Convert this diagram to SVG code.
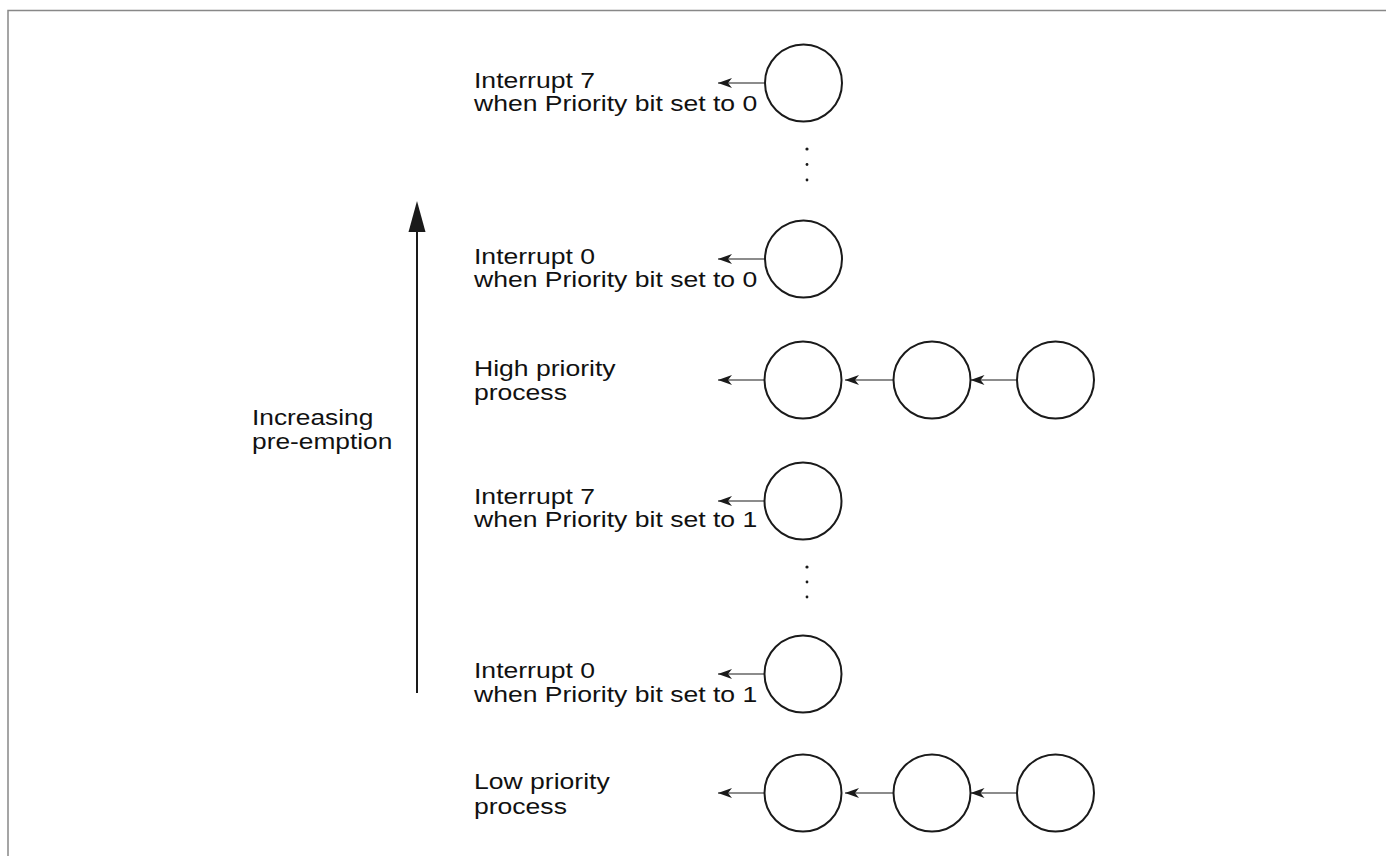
<svg xmlns="http://www.w3.org/2000/svg" width="1386" height="856" viewBox="0 0 1386 856">
<style>
.t{font-family:"Liberation Sans",Arial,sans-serif;font-size:22.5px;fill:#111}
.c{fill:#fff;stroke:#1a1a1a;stroke-width:2}
.a{stroke:#1a1a1a;stroke-width:1.2;fill:none;marker-end:url(#ah)}
.d{fill:#1a1a1a}
</style>
<defs>
<marker id="ah" markerUnits="userSpaceOnUse" viewBox="-15 -6 17 12" refX="0" refY="0" markerWidth="17" markerHeight="12" orient="auto">
<path d="M0,0 L-14,-5 L-10,0 L-14,5 Z" fill="#1a1a1a"/>
</marker>
</defs>
<rect width="1386" height="856" fill="#fff"/>
<path d="M8,856 L8,10.5 L1386,10.5" fill="none" stroke="#888" stroke-width="1.5"/>

<g id="axis">
<line x1="417" y1="693" x2="417" y2="228" stroke="#1a1a1a" stroke-width="2"/>
<polygon points="417,201 408.5,232 425.5,232" fill="#1a1a1a"/>
<text class="t" transform="translate(252,425) scale(1.17,1)">Increasing<tspan x="0" dy="24">pre-emption</tspan></text>
</g>

<g id="labels">
<text class="t" transform="translate(474,88) scale(1.18,1)">Interrupt 7<tspan x="0" dy="23">when Priority bit set to 0</tspan></text>
<text class="t" transform="translate(474,264) scale(1.18,1)">Interrupt 0<tspan x="0" dy="23">when Priority bit set to 0</tspan></text>
<text class="t" transform="translate(474,376) scale(1.18,1)">High priority<tspan x="0" dy="24">process</tspan></text>
<text class="t" transform="translate(474,504) scale(1.18,1)">Interrupt 7<tspan x="0" dy="23">when Priority bit set to 1</tspan></text>
<text class="t" transform="translate(474,678) scale(1.18,1)">Interrupt 0<tspan x="0" dy="24">when Priority bit set to 1</tspan></text>
<text class="t" transform="translate(474,789) scale(1.18,1)">Low priority<tspan x="0" dy="25">process</tspan></text>
</g>

<g id="n-i7p0"><circle class="c" cx="803.5" cy="83" r="38.5"/></g>
<g id="dots1"><circle class="d" cx="807" cy="149" r="1.6"/><circle class="d" cx="807" cy="164.5" r="1.4"/><circle class="d" cx="807" cy="180" r="1.4"/></g>
<g id="n-i0p0"><circle class="c" cx="803.5" cy="259" r="38.5"/></g>
<g id="n-h1"><circle class="c" cx="803" cy="380" r="38.5"/></g>
<g id="n-h2"><circle class="c" cx="932" cy="380" r="38.5"/></g>
<g id="n-h3"><circle class="c" cx="1055.5" cy="380" r="38.5"/></g>
<g id="n-i7p1"><circle class="c" cx="803" cy="501" r="38.5"/></g>
<g id="dots2"><circle class="d" cx="807" cy="567" r="1.6"/><circle class="d" cx="807" cy="582" r="1.4"/><circle class="d" cx="807" cy="597" r="1.4"/></g>
<g id="n-i0p1"><circle class="c" cx="803" cy="674" r="38.5"/></g>
<g id="n-l1"><circle class="c" cx="803" cy="793" r="38.5"/></g>
<g id="n-l2"><circle class="c" cx="932" cy="793" r="38.5"/></g>
<g id="n-l3"><circle class="c" cx="1055.5" cy="793" r="38.5"/></g>

<g id="connectors">
<line class="a" x1="765" y1="83" x2="718" y2="83"/>
<line class="a" x1="765" y1="259" x2="718" y2="259"/>
<line class="a" x1="764.5" y1="380" x2="718" y2="380"/>
<line class="a" x1="893.5" y1="380" x2="845" y2="380"/>
<line class="a" x1="1017" y1="380" x2="970.5" y2="380"/>
<line class="a" x1="764.5" y1="501" x2="718" y2="501"/>
<line class="a" x1="764.5" y1="674" x2="718" y2="674"/>
<line class="a" x1="764.5" y1="793" x2="718" y2="793"/>
<line class="a" x1="893.5" y1="793" x2="845" y2="793"/>
<line class="a" x1="1017" y1="793" x2="970.5" y2="793"/>
</g>
</svg>
